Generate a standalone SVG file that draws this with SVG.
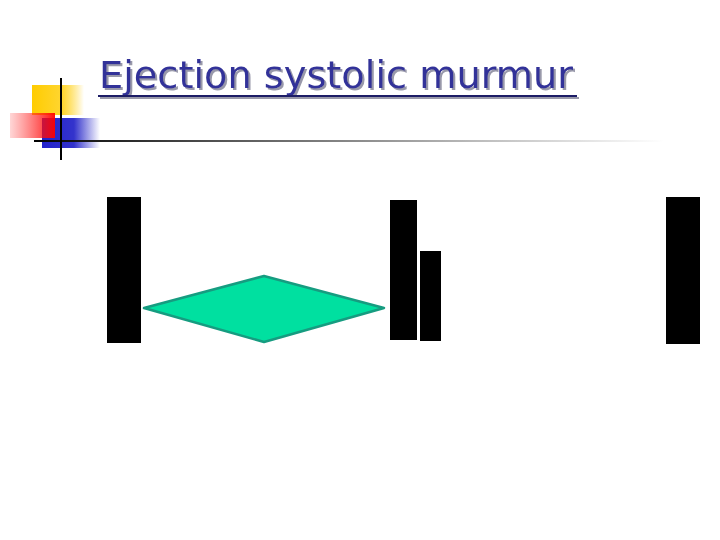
<svg xmlns="http://www.w3.org/2000/svg" width="720" height="540" viewBox="0 0 720 540">
<defs>
<linearGradient id="gY" x1="0" x2="1" y1="0" y2="0"><stop offset="0" stop-color="#ffcc00"/><stop offset="0.6" stop-color="#ffd633"/><stop offset="1" stop-color="#ffcc00" stop-opacity="0"/></linearGradient>
<linearGradient id="gR" x1="0" x2="1" y1="0" y2="0"><stop offset="0" stop-color="#ff3333" stop-opacity="0.2"/><stop offset="1" stop-color="#ff0000" stop-opacity="0.95"/></linearGradient>
<linearGradient id="gB" x1="0" x2="1" y1="0" y2="0"><stop offset="0" stop-color="#2222cc"/><stop offset="0.55" stop-color="#3333cc"/><stop offset="1" stop-color="#3333cc" stop-opacity="0"/></linearGradient>
<linearGradient id="gL" x1="0" x2="1" y1="0" y2="0"><stop offset="0" stop-color="#000000"/><stop offset="0.3" stop-color="#555555"/><stop offset="0.7" stop-color="#bbbbbb"/><stop offset="1" stop-color="#ffffff"/></linearGradient>
<filter id="shadow" x="-5%" y="-20%" width="110%" height="140%"><feDropShadow dx="2" dy="2" stdDeviation="0" flood-color="#9999aa"/></filter>
<style>
.bar{fill:#000}
.title{font-family:"DejaVu Sans Condensed","DejaVu Sans",Verdana,sans-serif;font-size:37px}
</style>
</defs>
<rect width="720" height="540" fill="#fff"/>
<g id="logo">
<rect x="32" y="85" width="52" height="30" fill="url(#gY)"/>
<rect x="42" y="118" width="58" height="30" fill="url(#gB)"/>
<rect x="10" y="113" width="45" height="25" fill="url(#gR)"/>
<rect x="34" y="140" width="630" height="2" fill="url(#gL)"/>
<rect x="60" y="78" width="2" height="82" fill="#000"/>
</g>
<g id="title" filter="url(#shadow)">
<text class="title" x="99" y="88" fill="#333399" textLength="474" lengthAdjust="spacingAndGlyphs">Ejection systolic murmur</text>
<rect x="98" y="95" width="479" height="2" fill="#1a1a66"/>
</g>
<g id="bar-s1"><rect class="bar" x="107" y="197" width="34" height="146"/></g>
<g id="bar-a2"><rect class="bar" x="390" y="200" width="27" height="140"/></g>
<g id="bar-p2"><rect class="bar" x="420" y="251" width="21" height="90"/></g>
<g id="bar-s1b"><rect class="bar" x="666" y="197" width="34" height="147"/></g>
<g id="murmur"><polygon points="144,308 264,276 384,308 264,342" fill="#00e0a0" stroke="#169c80" stroke-width="2.5" stroke-linejoin="round"/></g>
<g id="connectors"></g>
</svg>
